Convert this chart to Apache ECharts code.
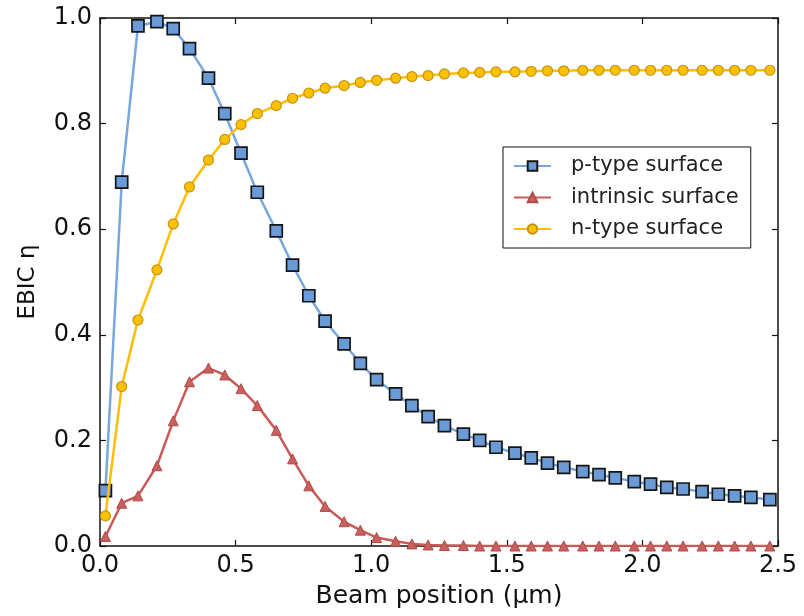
<!DOCTYPE html>
<html>
<head>
<meta charset="utf-8">
<title>EBIC</title>
<script src="https://cdn.jsdelivr.net/npm/echarts@6/dist/echarts.min.js"></script>
<style>
  html, body { margin: 0; padding: 0; background: #fff; }
  #chart { width: 804px; height: 616px; }
</style>
</head>
<body>
<div id="chart"></div>
<script>
// beam positions (um)
const beamPos = [0.02, 0.08, 0.14, 0.21, 0.27, 0.33, 0.40, 0.46, 0.52, 0.58,
  0.65, 0.71, 0.77, 0.83, 0.90, 0.96, 1.02, 1.09, 1.15, 1.21,
  1.27, 1.34, 1.40, 1.46, 1.53, 1.59, 1.65, 1.71, 1.78, 1.84,
  1.90, 1.97, 2.03, 2.09, 2.15, 2.22, 2.28, 2.34, 2.40, 2.47];

// EBIC values
const pType = [0.105, 0.689, 0.985, 0.993, 0.980, 0.942, 0.886, 0.819, 0.744, 0.670,
  0.597, 0.532, 0.474, 0.426, 0.383, 0.346, 0.315, 0.288, 0.266, 0.245,
  0.228, 0.212, 0.200, 0.187, 0.176, 0.167, 0.157, 0.149, 0.141, 0.135,
  0.129, 0.122, 0.117, 0.111, 0.108, 0.103, 0.098, 0.095, 0.092, 0.088];
const intrinsic = [0.018, 0.081, 0.095, 0.152, 0.237, 0.311, 0.337, 0.324, 0.298, 0.266,
  0.219, 0.165, 0.114, 0.075, 0.046, 0.030, 0.016, 0.009, 0.004, 0.002,
  0.001, 0.001, 0, 0, 0, 0, 0, 0, 0, 0,
  0, 0, 0, 0, 0, 0, 0, 0, 0, 0];
const nType = [0.057, 0.302, 0.428, 0.523, 0.610, 0.680, 0.731, 0.770, 0.798, 0.819,
  0.834, 0.848, 0.858, 0.867, 0.872, 0.878, 0.882, 0.886, 0.889, 0.891,
  0.894, 0.896, 0.897, 0.898, 0.898, 0.899, 0.900, 0.900, 0.901, 0.901,
  0.901, 0.901, 0.901, 0.901, 0.901, 0.901, 0.901, 0.901, 0.901, 0.901];

const seriesNames = ['p-type surface', 'intrinsic surface', 'n-type surface'];

const pairs = (ys) => beamPos.map((x, i) => [x, ys[i]]);

const font = 'DejaVu Sans';
const myChart = echarts.init(document.getElementById('chart'), null, { renderer: 'canvas' });

const frameAxisX = {
  type: 'value', min: 0, max: 2.5, interval: 0.5,
  axisLine: { show: true, onZero: false, lineStyle: { color: '#111', width: 1.5 } },
  axisTick: { show: true, inside: true, length: 6, lineStyle: { color: '#111', width: 1.2 } },
  splitLine: { show: false },
};
const frameAxisY = {
  type: 'value', min: 0, max: 1, interval: 0.2,
  axisLine: { show: true, onZero: false, lineStyle: { color: '#111', width: 1.5 } },
  axisTick: { show: true, inside: true, length: 6, lineStyle: { color: '#111', width: 1.2 } },
  splitLine: { show: false },
};

const option = {
  backgroundColor: '#fff',
  animation: false,
  grid: { left: 100, right: 26, top: 18, bottom: 70 },
  legend: {
    data: seriesNames,
    orient: 'vertical',
    left: 503,
    top: 147,
    padding: [8, 12, 8, 10],
    itemWidth: 37,
    itemHeight: 12,
    itemGap: 9.5,
    borderColor: '#111',
    borderWidth: 1,
    borderRadius: 0,
    backgroundColor: '#fff',
    textStyle: { fontFamily: font, fontSize: 21, color: '#222', lineHeight: 22, padding: [0, 0, 0, 15] },
  },
  xAxis: [
    Object.assign({}, frameAxisX, {
      position: 'bottom',
      name: 'Beam position (μm)',
      nameLocation: 'middle',
      nameGap: 38,
      nameTextStyle: { fontFamily: font, fontSize: 25, color: '#111' },
      axisLabel: { fontFamily: font, fontSize: 24, color: '#111', margin: 8,
        formatter: (v) => v.toFixed(1) },
    }),
    Object.assign({}, frameAxisX, { position: 'top', axisLabel: { show: false } }),
  ],
  yAxis: [
    Object.assign({}, frameAxisY, {
      position: 'left',
      name: 'EBIC η',
      nameLocation: 'middle',
      nameGap: 60,
      nameTextStyle: { fontFamily: font, fontSize: 23, color: '#111' },
      axisLabel: { fontFamily: font, fontSize: 24, color: '#111', margin: 8,
        formatter: (v) => v.toFixed(1) },
    }),
    Object.assign({}, frameAxisY, { position: 'right', axisLabel: { show: false } }),
  ],
  series: [
    {
      name: seriesNames[0],
      type: 'line',
      data: pairs(pType),
      symbol: 'rect',
      symbolSize: 12,
      lineStyle: { color: '#78a7de', width: 2.5 },
      itemStyle: { color: '#6b9bd6', borderColor: '#151515', borderWidth: 1.7 },
      z: 2,
    },
    {
      name: seriesNames[1],
      type: 'line',
      data: pairs(intrinsic),
      symbol: 'triangle',
      symbolSize: 10,
      lineStyle: { color: '#c85a58', width: 2.5 },
      itemStyle: { color: '#c8605e', borderColor: '#b04a48', borderWidth: 1 },
      z: 3,
    },
    {
      name: seriesNames[2],
      type: 'line',
      data: pairs(nType),
      symbol: 'circle',
      symbolSize: 10,
      lineStyle: { color: '#ffbd00', width: 2.5 },
      itemStyle: { color: '#ffc000', borderColor: '#c09418', borderWidth: 1.2 },
      z: 4,
    },
  ],
};

myChart.setOption(option);
</script>
</body>
</html>
